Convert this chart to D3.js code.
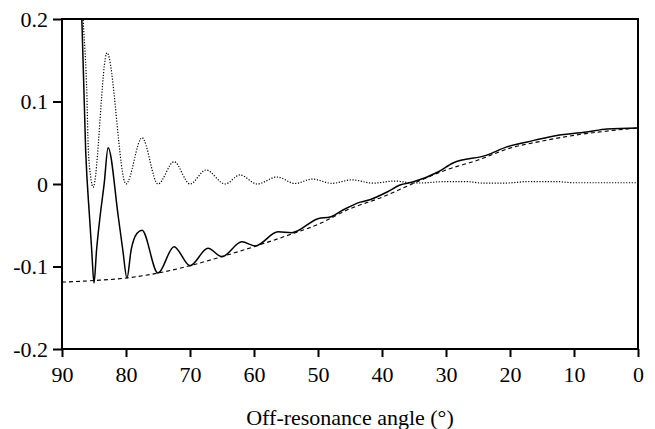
<!DOCTYPE html>
<html>
<head>
<meta charset="utf-8">
<script src="https://cdn.jsdelivr.net/npm/d3@7"></script>
<style>
  body { margin: 0; background: #fff; }
  text { font-family: "Liberation Serif", "Times New Roman", serif; }
</style>
</head>
<body>
<svg id="chart"></svg>
<script>
// axis ticks
const xTicks = [90, 80, 70, 60, 50, 40, 30, 20, 10, 0];
const yTicks = [0.2, 0.1, 0, -0.1, -0.2];
const yTickLabels = ["0.2", "0.1", "0", "-0.1", "-0.2"];
const xTitle = "Off-resonance angle (\u00b0)";

// solid curve
const solidAngle = [87.2, 86.9, 86.3, 85.7, 85.36, 85.0, 84.6, 84.06, 83.4, 82.8,
  81.2, 80.5, 79.85, 79.2, 78.3, 77.5, 75.0, 72.5, 70.0,
  67.2, 65.0, 61.9, 59.8, 56.25, 54.1, 50.0, 48.1, 46.1, 43.4, 41.9, 39.2, 37.2,
  35.2, 31.25, 28.9, 23.6, 20.5, 17.3, 13.3, 8.0, 4.8, 0];
const solidValue = [0.30, 0.20, 0.04, -0.04, -0.08, -0.120, -0.08, -0.04, 0.001, 0.044,
  -0.04, -0.08, -0.114, -0.08, -0.06, -0.056, -0.108, -0.076, -0.099,
  -0.078, -0.088, -0.070, -0.075, -0.058, -0.059, -0.042, -0.040, -0.0315, -0.022, -0.019, -0.0097, -0.0012,
  0.0024, 0.0145, 0.0255, 0.035, 0.045, 0.051, 0.058, 0.063, 0.0667, 0.068];

// dashed curve
const dashedAngle = [90, 85, 80, 75, 70, 65, 60, 55, 50, 45, 40, 35, 30, 25, 20, 15, 10, 5, 0];
const dashedValue = [-0.119, -0.117, -0.114, -0.108, -0.099, -0.088, -0.076, -0.063, -0.049,
  -0.030, -0.016, 0.001, 0.017, 0.029, 0.0435, 0.052, 0.059, 0.064, 0.068];

// dotted curve
const dottedAngle = [87.1, 86.7, 86.1, 85.9, 85.5, 85.15, 82.97, 80.0, 77.5, 75.0, 72.5, 70.0,
  67.5, 64.5, 62.2, 59.5, 56.4, 53.6, 50.9, 47.8, 44.7, 41.4, 38.0, 35.6, 34.1, 30.0, 27.0,
  24.0, 21.0, 17.0, 13.0, 10.0, 0];
const dottedValue = [0.26, 0.20, 0.104, 0.044, 0.008, -0.004, 0.159, 0.0, 0.056, 0.0, 0.027, 0.0,
  0.017, 0.0, 0.011, 0.0, 0.0085, 0.0006, 0.006, 0.0008, 0.005, 0.001, 0.0036, 0.0015, 0.0012, 0.003, 0.003,
  0.001, 0.001, 0.003, 0.003, 0.0015, 0.0015];

const width = 655, height = 429;
const margin = {top: 19, right: 17, bottom: 80, left: 62};
const innerW = width - margin.left - margin.right;
const innerH = height - margin.top - margin.bottom;
const fontFamily = "'Liberation Serif', 'Times New Roman', serif";

const svg = d3.select("#chart")
  .attr("width", width)
  .attr("height", height);

const g = svg.append("g")
  .attr("transform", "translate(" + margin.left + "," + margin.top + ")");

const x = d3.scaleLinear().domain([90, 0]).range([0, innerW]);
const y = d3.scaleLinear().domain([-0.2, 0.2]).range([innerH, 0]);

g.append("clipPath").attr("id", "plotClip")
  .append("rect")
  .attr("width", innerW)
  .attr("height", innerH);

const line = d3.line()
  .x(d => x(d[0]))
  .y(d => y(d[1]))
  .curve(d3.curveMonotoneX);

const plot = g.append("g").attr("clip-path", "url(#plotClip)");

plot.append("path")
  .datum(d3.zip(dashedAngle, dashedValue))
  .attr("d", line)
  .attr("fill", "none")
  .attr("stroke", "#000")
  .attr("stroke-width", 1.1)
  .attr("stroke-dasharray", "4,3");

plot.append("path")
  .datum(d3.zip(dottedAngle, dottedValue))
  .attr("d", line)
  .attr("fill", "none")
  .attr("stroke", "#000")
  .attr("stroke-width", 1.2)
  .attr("stroke-dasharray", "1.2,1.6");

plot.append("path")
  .datum(d3.zip(solidAngle, solidValue))
  .attr("d", line)
  .attr("fill", "none")
  .attr("stroke", "#000")
  .attr("stroke-width", 1.5);

// axes
const xAxis = d3.axisBottom(x)
  .tickValues(xTicks)
  .tickSize(8)
  .tickPadding(9)
  .tickFormat(d3.format("d"));

const yAxis = d3.axisLeft(y)
  .tickValues(yTicks)
  .tickSize(9)
  .tickPadding(5)
  .tickFormat((d, i) => yTickLabels[i]);

const xAxisG = g.append("g")
  .attr("class", "x-axis")
  .attr("transform", "translate(0," + innerH + ")")
  .call(xAxis);

const yAxisG = g.append("g")
  .attr("class", "y-axis")
  .call(yAxis);

[xAxisG, yAxisG].forEach(a => {
  a.attr("font-family", fontFamily).attr("font-size", 22);
  a.select(".domain").remove();
  a.selectAll(".tick line").attr("stroke", "#000").attr("stroke-width", 2);
  a.selectAll(".tick text").attr("fill", "#000");
});

// frame
g.append("rect")
  .attr("width", innerW)
  .attr("height", innerH)
  .attr("fill", "none")
  .attr("stroke", "#000")
  .attr("stroke-width", 2);

svg.append("text")
  .attr("x", margin.left + innerW / 2)
  .attr("y", 425)
  .attr("text-anchor", "middle")
  .attr("font-family", fontFamily)
  .attr("font-size", 22)
  .text(xTitle);
</script>
</body>
</html>
